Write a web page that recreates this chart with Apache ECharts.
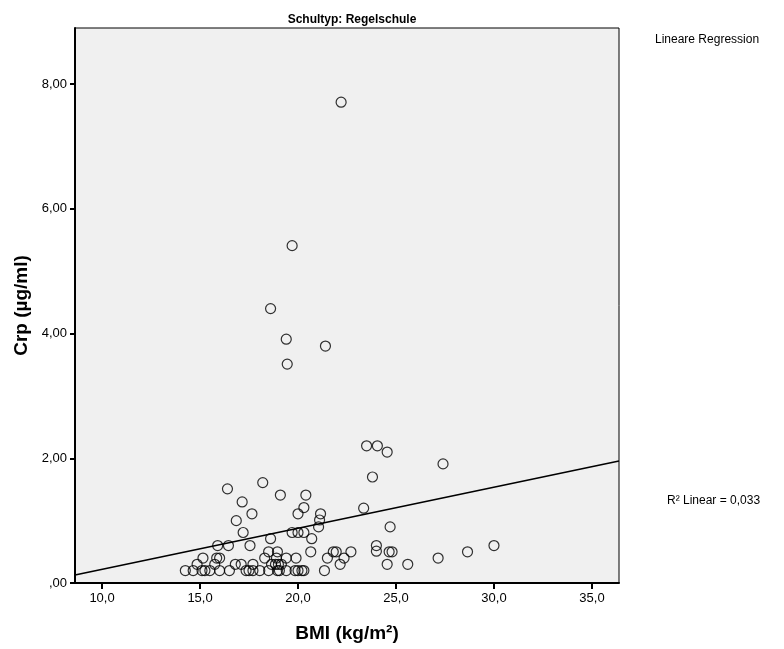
<!DOCTYPE html>
<html>
<head>
<meta charset="utf-8">
<script src="https://cdn.jsdelivr.net/npm/echarts@6/dist/echarts.min.js"></script>
<style>
  html, body { margin: 0; padding: 0; background: #ffffff; }
  #chart { width: 784px; height: 649px; }
</style>
</head>
<body>
<div id="chart"></div>
<script>
// BMI (kg/m²) of each pupil
const bmi = [
  22.2, 19.7, 18.6, 19.4, 21.4, 19.45,
  23.5, 24.05, 24.55, 27.4, 23.8,
  18.2, 16.4, 19.1, 20.4, 17.15, 20.3, 23.35,
  20.0, 21.15, 17.65, 16.85, 21.1, 21.05, 24.7,
  17.2, 19.7, 20.0, 20.3, 18.6, 20.7,
  15.9, 16.45, 17.55, 24.0, 30.0,
  18.5, 18.95, 20.65, 21.8, 21.95, 22.7, 24.65, 24.8, 28.65, 24.0,
  15.15, 15.85, 16.0, 18.3, 18.9, 19.4, 19.9, 21.5, 22.35, 27.15,
  14.85, 15.75, 16.8, 17.1, 17.7, 18.65, 18.85, 19.0, 19.15, 22.15, 24.55, 25.6,
  14.25, 14.65, 15.1, 15.25, 15.5, 16.0, 16.5, 17.35, 17.5, 17.7,
  18.05, 18.5, 18.95, 19.05, 19.4, 19.85, 20.0, 20.2, 20.3, 21.35
];

// CRP (µg/ml) of each pupil, same order as bmi
const crp = [
  7.71, 5.41, 4.40, 3.91, 3.80, 3.51,
  2.20, 2.20, 2.10, 1.91, 1.70,
  1.61, 1.51, 1.41, 1.41, 1.30, 1.21, 1.20,
  1.11, 1.11, 1.11, 1.00, 1.01, 0.90, 0.90,
  0.81, 0.81, 0.81, 0.81, 0.71, 0.71,
  0.60, 0.60, 0.60, 0.60, 0.60,
  0.50, 0.50, 0.50, 0.50, 0.50, 0.50, 0.50, 0.50, 0.50, 0.51,
  0.40, 0.40, 0.40, 0.40, 0.40, 0.40, 0.40, 0.40, 0.40, 0.40,
  0.30, 0.30, 0.30, 0.30, 0.30, 0.30, 0.30, 0.30, 0.30, 0.30, 0.30, 0.30,
  0.20, 0.20, 0.20, 0.20, 0.20, 0.20, 0.20, 0.20, 0.20, 0.20,
  0.20, 0.20, 0.20, 0.20, 0.20, 0.20, 0.20, 0.20, 0.20, 0.20
];

// Axis ranges and tick positions
const xRange = [8.62, 36.38];
const yRange = [0, 8.9];
const xTicks = [10, 15, 20, 25, 30, 35];
const yTicks = [0, 2, 4, 6, 8];

// Fitted linear regression: crp = intercept + slope * bmi
const regIntercept = -0.44;
const regSlope = 0.0659;
const rSquared = 0.033;

const points = bmi.map((x, i) => [x, crp[i]]);
const regLine = xRange.map(x => [x, regIntercept + regSlope * x]);

// German decimal comma: 0 -> ",00", 2 -> "2,00"
function fmtY(v) {
  const s = v.toFixed(2).replace('.', ',');
  return s.startsWith('0,') ? s.slice(1) : s;
}
function fmtX(v) {
  return v.toFixed(1).replace('.', ',');
}

const FONT = '"Liberation Sans", Arial, sans-serif';
const chart = echarts.init(document.getElementById('chart'), null, { renderer: 'canvas' });

chart.setOption({
  backgroundColor: '#ffffff',
  animation: false,
  title: {
    text: 'Schultyp: Regelschule',
    left: 347, top: 9, textAlign: 'center',
    textStyle: { fontFamily: FONT, fontSize: 12, fontWeight: 'bold', color: '#000' }
  },
  grid: {
    left: 75, top: 28, width: 544, height: 555,
    show: true, backgroundColor: '#f0f0f0', borderColor: '#000', borderWidth: 1
  },
  xAxis: {
    type: 'value', min: xRange[0], max: xRange[1],
    name: 'BMI (kg/m²)', nameLocation: 'middle', nameGap: 41,
    nameTextStyle: { fontFamily: FONT, fontSize: 19, fontWeight: 'bold', color: '#000' },
    axisLine: { show: true, onZero: false, lineStyle: { color: '#000', width: 2 } },
    axisTick: { show: true, customValues: xTicks, length: 6, lineStyle: { color: '#000', width: 2 } },
    axisLabel: { customValues: xTicks, formatter: fmtX, margin: 9,
      fontFamily: FONT, fontSize: 13, color: '#000' },
    splitLine: { show: false }
  },
  yAxis: {
    type: 'value', min: yRange[0], max: yRange[1],
    name: 'Crp (µg/ml)', nameLocation: 'middle', nameGap: 42, nameRotate: 90,
    nameTextStyle: { fontFamily: FONT, fontSize: 19, fontWeight: 'bold', color: '#000' },
    axisLine: { show: true, onZero: false, lineStyle: { color: '#000', width: 2 } },
    axisTick: { show: true, customValues: yTicks, length: 5, lineStyle: { color: '#000', width: 2 } },
    axisLabel: { customValues: yTicks, formatter: fmtY, margin: 8,
      fontFamily: FONT, fontSize: 13, color: '#000' },
    splitLine: { show: false }
  },
  graphic: [
    { type: 'text', left: 655, top: 34,
      style: { text: 'Lineare Regression', font: '12px ' + FONT, fill: '#000' } },
    { type: 'text', left: 667, top: 495,
      style: { text: 'R² Linear = ' + rSquared.toFixed(3).replace('.', ','), font: '12px ' + FONT, fill: '#000' } }
  ],
  series: [
    {
      type: 'scatter', data: points, symbol: 'circle', symbolSize: 10,
      itemStyle: { color: 'rgba(0,0,0,0)', borderColor: '#000', borderWidth: 1.2 },
      z: 3
    },
    {
      type: 'line', data: regLine, showSymbol: false, symbol: 'none',
      lineStyle: { color: '#000', width: 1.6 }, z: 4
    }
  ]
});
</script>
</body>
</html>
